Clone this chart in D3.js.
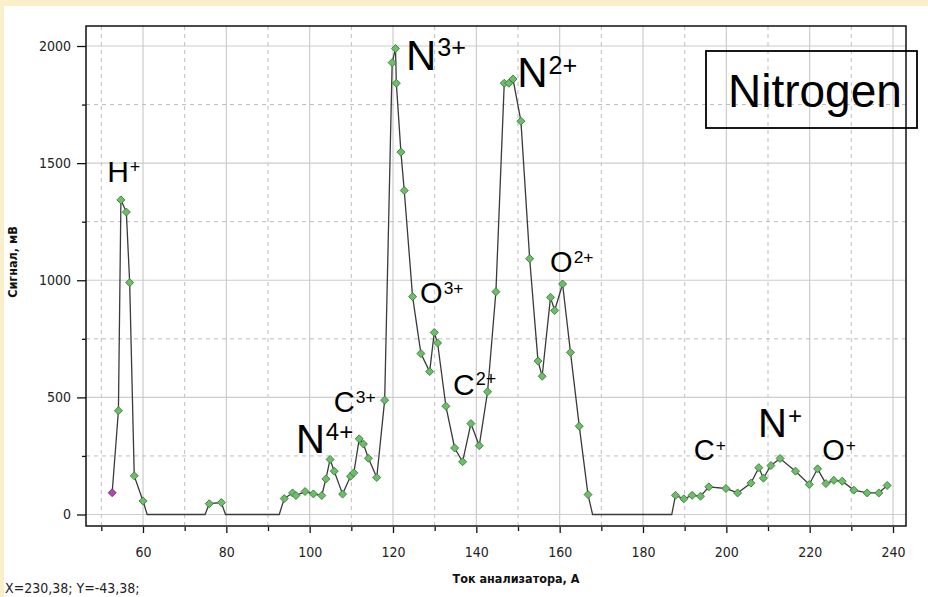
<!DOCTYPE html>
<html><head><meta charset="utf-8">
<script src="https://cdn.jsdelivr.net/npm/d3@7"></script>
<style>body{margin:0;background:#fff} svg{display:block}</style>
</head><body>
<svg id="c" width="928" height="597"></svg>
<script>
// ---- data (analyser current, A  /  signal, mV) ----
const current = [52.6,54.1,54.7,56.0,56.8,57.9,60.0,61.0,74.9,75.9,78.8,79.8,92.7,93.9,95.9,96.7,98.9,100.9,102.9,103.9,104.9,105.9,107.9,109.8,110.6,111.9,112.9,114.1,116.1,118.0,119.8,120.6,120.8,121.9,122.7,124.7,126.7,128.8,129.9,130.7,132.7,134.8,136.7,138.7,140.7,142.7,144.7,146.7,147.8,148.8,150.7,152.8,154.8,155.8,157.8,158.8,160.7,162.6,164.7,166.8,167.9,186.9,187.8,189.8,191.8,193.8,195.8,199.9,202.7,205.9,207.8,208.9,210.7,212.9,216.6,219.9,221.9,223.9,225.8,227.8,230.6,233.8,236.6,238.6];
const signal  = [93,443,1343,1291,990,165,58,0,0,46,51,0,0,68,92,81,98,88,81,152,235,185,87,163,178,323,301,240,158,488,1929,1989,1841,1547,1383,930,687,610,777,732,462,284,225,388,294,524,951,1841,1841,1859,1679,1092,655,590,927,871,984,692,377,85,0,0,82,67,82,78,118,111,92,134,200,155,209,239,185,128,195,132,146,142,104,92,92,124];
const selectedIndex = 0;
const xTicks = [60,80,100,120,140,160,180,200,220,240];
const xMinor = [50,70,90,110,130,150,170,190,210,230];
const yTicks = [0,500,1000,1500,2000];
const yMinor = [250,750,1250,1750];
const xTitle = "Ток анализатора, А";
const yTitle = "Сигнал, мВ";
const cursorText = "X=230,38; Y=-43,38;";
const boxTitle = "Nitrogen";
// ion labels anchored in data units (current, signal)
const ionBase   = ["H","N","N","O","O","C","C","N","C","N","O"];
const ionCharge = ["+","3+","2+","3+","2+","3+","2+","4+","+","+","+"];
const ionAtX    = [51.4,123.1,149.8,126.5,157.7,105.8,134.4,96.7,192.2,207.6,223.0];
const ionAtY    = [1419,1898,1825,903,1035,437,510,262,232,331,232];
const ionSize   = [30,42,42,29,29,29,30,40,29,40,29];

const svg = d3.select("#c");
const W = 928, H = 597;
const L = 86, R = 906, T = 26, B = 526;

svg.append("rect").attr("width",W).attr("height",H).attr("fill","#faefc9");
svg.append("rect").attr("x",4).attr("y",6).attr("width",W-4).attr("height",H-6).attr("fill","#ffffff");

const x = d3.scaleLinear().domain([46.32, 243.12]).range([L, R]);
const y = d3.scaleLinear().domain([-49.1, 2085.4]).range([B, T]);

const g = svg.append("g");
// grid
g.selectAll(".gxm").data(xMinor).join("line")
  .attr("x1",d=>x(d)).attr("x2",d=>x(d)).attr("y1",T).attr("y2",B)
  .attr("stroke","#bdbdbd").attr("stroke-dasharray","4,4").attr("stroke-width",1);
g.selectAll(".gx").data(xTicks).join("line")
  .attr("x1",d=>x(d)).attr("x2",d=>x(d)).attr("y1",T).attr("y2",B)
  .attr("stroke","#cccccc").attr("stroke-width",1.2);
g.selectAll(".gym").data(yMinor).join("line")
  .attr("y1",d=>y(d)).attr("y2",d=>y(d)).attr("x1",L).attr("x2",R)
  .attr("stroke","#bdbdbd").attr("stroke-dasharray","4,4").attr("stroke-width",1);
g.selectAll(".gy").data(yTicks).join("line")
  .attr("y1",d=>y(d)).attr("y2",d=>y(d)).attr("x1",L).attr("x2",R)
  .attr("stroke","#cccccc").attr("stroke-width",1.2);

// axes
const tickFont = "'DejaVu Sans Condensed','Liberation Sans Narrow',sans-serif";
const xa = svg.append("g").attr("transform",`translate(0,${B+1})`)
  .call(d3.axisBottom(x).tickValues(xTicks).tickSize(6).tickPadding(14).tickFormat(d3.format("d")));
const xam = svg.append("g").attr("transform",`translate(0,${B+1})`)
  .call(d3.axisBottom(x).tickValues(xMinor).tickSize(4).tickFormat(""));
const ya = svg.append("g").attr("transform",`translate(${L},0)`)
  .call(d3.axisLeft(y).tickValues(yTicks).tickSize(9).tickPadding(6).tickFormat(d3.format("d")));
const yam = svg.append("g").attr("transform",`translate(${L},0)`)
  .call(d3.axisLeft(y).tickValues(yMinor).tickSize(4).tickFormat(""));
[xa,xam,ya,yam].forEach(a=>{
  a.select(".domain").remove();
  a.selectAll(".tick line").attr("stroke","#111").attr("stroke-width",1.3);
  a.selectAll(".tick text").attr("font-family",tickFont).attr("font-size",14).attr("fill","#222");
});

// frame
svg.append("rect").attr("x",L).attr("y",T).attr("width",R-L).attr("height",B-T)
  .attr("fill","none").attr("stroke","#111").attr("stroke-width",1.5);

// series
const pts = current.map((c,i)=>({x:c,y:signal[i],i}));
svg.append("path").datum(pts)
  .attr("d", d3.line().x(d=>x(d.x)).y(d=>y(d.y)))
  .attr("fill","none").attr("stroke","#3a3a3a").attr("stroke-width",1.3);
const dia = "M0,-4L4,0L0,4L-4,0Z";
svg.selectAll(".pt").data(pts.filter(d=>d.y>0)).join("path")
  .attr("d",dia).attr("transform",d=>`translate(${x(d.x)},${y(d.y)})`)
  .attr("fill",d=>d.i===selectedIndex?"#b048b0":"#6cbf68")
  .attr("stroke",d=>d.i===selectedIndex?"#7a2a7a":"#3a7a38").attr("stroke-width",0.9);

// ion labels
const labFont = "'Liberation Sans',Arial,sans-serif";
ionBase.forEach((b,i)=>{
  const s = ionSize[i];
  const t = svg.append("text").attr("x",x(ionAtX[i])).attr("y",y(ionAtY[i]))
    .attr("font-family",labFont).attr("font-size",s).attr("fill","#000");
  t.append("tspan").text(b);
  t.append("tspan").attr("font-size",s*0.6).attr("dy",-s*0.32).attr("dx",1).text(ionCharge[i]);
});

// title box
svg.append("rect").attr("x",706).attr("y",51).attr("width",211).attr("height",77)
  .attr("fill","none").attr("stroke","#000").attr("stroke-width",1.8);
svg.append("text").attr("x",728).attr("y",107).attr("font-family",labFont)
  .attr("font-size",46).attr("fill","#000").text(boxTitle);

// axis titles
svg.append("text").attr("x",516).attr("y",583).attr("text-anchor","middle")
  .attr("font-family",tickFont).attr("font-weight","bold").attr("font-size",12.5).attr("fill","#111").text(xTitle);
svg.append("text").attr("transform","translate(17,262) rotate(-90)").attr("text-anchor","middle")
  .attr("font-family",tickFont).attr("font-weight","bold").attr("font-size",12.5).attr("fill","#111").text(yTitle);
svg.append("text").attr("x",5).attr("y",593)
  .attr("font-family",tickFont).attr("font-size",14).attr("fill","#222").text(cursorText);
</script>
</body></html>
